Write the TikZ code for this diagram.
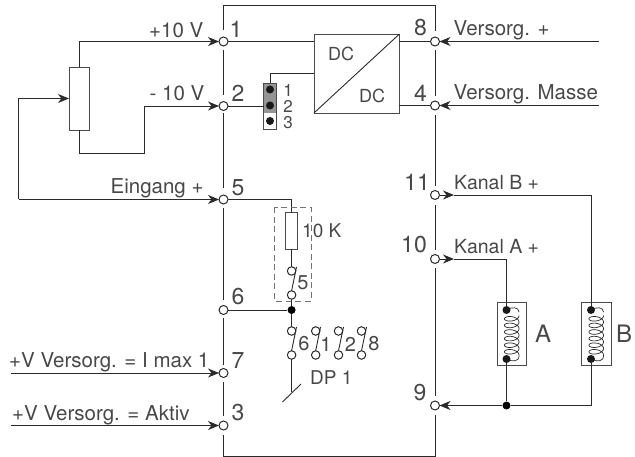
\documentclass[tikz,border=0pt]{standalone}
\usepackage{fontspec}
\setmainfont{TeX Gyre Heros}
\usetikzlibrary{arrows.meta}
\definecolor{ink}{HTML}{2A2A2A}
\definecolor{txt}{HTML}{484848}
\tikzset{
  wire/.style={draw=ink,line width=0.9pt},
  box/.style={draw=ink!85,line width=0.9pt,fill=white,rectangle,inner sep=0pt,outer sep=0pt},
  term/.style={circle,draw=ink,line width=1pt,fill=white,minimum size=9pt,inner sep=0pt,outer sep=0pt},
  swt/.style={term,minimum size=8.5pt},
  jdot/.style={circle,fill=black!90,minimum size=8pt,inner sep=0pt},
  arr/.style={wire,-{Stealth[length=11pt,width=9pt,inset=3.5pt]}},
  num/.style={text=txt,font=\fontsize{23}{23}\selectfont,inner sep=0pt},
  lab/.style={text=txt,font=\fontsize{20.5}{21}\selectfont,inner sep=0pt,anchor=base west},
  small/.style={text=txt,font=\fontsize{18}{18}\selectfont,inner sep=0pt},
  swdig/.style={text=txt,font=\fontsize{20}{20}\selectfont,inner sep=0pt},
  jdig/.style={text=txt,font=\fontsize{17}{17}\selectfont,inner sep=0pt},
  kan/.style={lab,font=\fontsize{19.5}{20}\selectfont},
  coillet/.style={text=txt,font=\fontsize{24}{24}\selectfont,inner sep=0pt},
}
\newcommand{\coilat}[2]{% x of wire, top y
  \draw[ink,line width=0.7pt] (#1,#2) .. controls (#1+5,#2-3.5) and (#1+12.5,#2-3) .. (#1+12.5,#2+2)
    plot[domain=0:2160,samples=220,smooth] ({#1+5.2+7.3*cos(\x)},{#2+5.5+\x/360*6.6+3.8*sin(\x)})
    .. controls (#1+13,#2+52) and (#1+6,#2+52) .. (#1,#2+49);
}
\begin{document}
\begin{tikzpicture}[x=1pt,y=-1pt]
\useasboundingbox (0,0) rectangle (635,457);
% terminals
\node[term] (t1) at (223.5,41.5) {};
\node[term] (t2) at (223.5,106) {};
\node[term] (t5) at (223.5,199.5) {};
\node[term] (t6) at (223.5,310) {};
\node[term] (t7) at (223.5,373) {};
\node[term] (t3) at (223.5,425.5) {};
\node[term] (t8) at (435,41.5) {};
\node[term] (t4) at (435,105.5) {};
\node[term] (t11) at (435,195) {};
\node[term] (t10) at (435,259) {};
\node[term] (t9) at (435,405.5) {};
% housing
\draw[wire,line width=1pt] (223.5,30) -- (223.5,6) -- (435,6) -- (435,31);
\draw[wire,line width=1pt] (223.5,50) -- (223.5,95);
\draw[wire,line width=1pt] (223.5,113) -- (223.5,188);
\draw[wire,line width=1pt] (223.5,208) -- (223.5,300);
\draw[wire,line width=1pt] (223.5,318) -- (223.5,365);
\draw[wire,line width=1pt] (223.5,382) -- (223.5,416);
\draw[wire,line width=1pt] (223.5,435) -- (223.5,456) -- (435,456) -- (435,415);
\draw[wire,line width=1pt] (435,50) -- (435,96);
\draw[wire,line width=1pt] (435,115) -- (435,186);
\draw[wire,line width=1pt] (435,205) -- (435,250);
\draw[wire,line width=1pt] (435,268) -- (435,396);
% numbers
\node[num] at (236,29) {1};
\node[num] at (238,93) {2};
\node[num] at (238,188) {5};
\node[num] at (238,297) {6};
\node[num] at (238,361) {7};
\node[num] at (238,413) {3};
\node[num] at (420.5,28) {8};
\node[num] at (420.5,93) {4};
\node[num] at (417,182) {11};
\node[num] at (414,245) {10};
\node[num] at (420,393) {9};
% potentiometer
\node[box,minimum width=20.5pt,minimum height=63pt] (pot) at (79.2,98.5) {};
\coordinate (w1) at (79.2,41.5);
\coordinate (w2) at (79.2,153);
\coordinate (w3) at (144,153);
\coordinate (w4) at (144,106);
\coordinate (w5) at (18.5,98.5);
\coordinate (w6) at (18.5,199.5);
\draw[wire] (pot.north) -- (w1);
\draw[arr] (w1) -- (t1);
\draw[wire] (pot.south) -- (w2) -- (w3) -- (w4);
\draw[arr] (w4) -- (t2);
\draw[arr] (w6) -- (w5) -- (pot.west);
\draw[arr] (w6) -- (t5);
\node[lab] at (149,37.5) {+10 V};
\node[lab] at (149.5,100.5) {- 10 V};
\node[lab] at (110.5,194) {Eingang +};
% DC/DC
\node[box,minimum width=85.5pt,minimum height=79pt] (dc) at (356.7,73.5) {};
\draw[wire] (dc.south west) -- (dc.north east);
\node[small] at (341,54) {DC};
\node[small] at (372,96) {DC};
\draw[wire] (t1) -- (dc.west |- t1);
\draw[wire] (dc.east |- t8) -- (t8);
\draw[wire] (dc.east |- t4) -- (t4);
% jumper
\node[box,minimum width=12.5pt,minimum height=46pt] (jmp) at (270,106) {};
\fill[black!42] (jmp.north west) rectangle (276.2,113);
\draw[ink!85,line width=0.9pt] (jmp.north west) rectangle (jmp.south east);
\node[jdot] at (270,89.5) {};
\node[jdot] at (270,105.5) {};
\node[jdot] at (270,121) {};
\coordinate (j1) at (270,73);
\draw[wire] (jmp.north) -- (j1) -- (dc.west |- j1);
\draw[wire] (t2) -- (jmp.west |- t2);
\node[jdig] at (288,90) {1};
\node[jdig] at (288,106) {2};
\node[jdig] at (288,123) {3};
% supply
\coordinate (v8) at (599,41.5);
\coordinate (v4) at (599,105.5);
\draw[arr] (v8) -- (t8);
\draw[arr] (v4) -- (t4);
\node[lab] at (453.5,36) {Versorg. +};
\node[lab] at (453.5,100) {Versorg. Masse};
% 10K branch
\node[box,minimum width=12pt,minimum height=36.5pt] (r) at (291.6,231) {};
\coordinate (r1) at (291.6,199.5);
\draw[wire] (t5) -- (r1) -- (r.north);
\draw[draw=black!55,line width=0.9pt,dash pattern=on 6pt off 3.5pt] (274.7,207.5) rectangle (311,301);
\node[swt] (s5a) at (291.6,271) {};
\node[swt] (s5b) at (291.6,295) {};
\coordinate (s5c) at (296.5,267);
\draw[wire] (r.south) -- (s5a);
\draw[wire] (s5b.north) -- (s5c);
\node[swdig] at (303,283) {5};
\node[lab,font=\fontsize{19}{19}\selectfont] at (302,238) {10 K};
% DP switch
\node[circle,fill=black,minimum size=8pt,inner sep=0pt] (jn) at (291.6,310) {};
\draw[wire] (t6) -- (jn);
\draw[wire] (s5b) -- (jn);
\node[swt] (d1a) at (291.6,331) {};
\node[swt] (d1b) at (291.6,355) {};
\coordinate (d1c) at (296.5,327);
\draw[wire] (jn) -- (d1a);
\draw[wire] (d1b.north) -- (d1c);
\node[swt] (d2a) at (315.7,331) {};
\node[swt] (d2b) at (315.7,355) {};
\coordinate (d2c) at (320.5,327);
\draw[wire] (d2b.north) -- (d2c);
\node[swt] (d3a) at (338.5,331) {};
\node[swt] (d3b) at (338.5,355) {};
\coordinate (d3c) at (343.5,327);
\draw[wire] (d3b.north) -- (d3c);
\node[swt] (d4a) at (361.5,331) {};
\node[swt] (d4b) at (361.5,355) {};
\coordinate (d4c) at (366.5,327);
\draw[wire] (d4b.north) -- (d4c);
\node[swdig] at (304,344) {6};
\node[swdig] at (326,344) {1};
\node[swdig] at (350.5,344) {2};
\node[swdig] at (374,344) {8};
\coordinate (d5) at (291.6,392);
\coordinate (d6) at (282.5,402);
\coordinate (d7) at (301,384);
\draw[wire] (d1b) -- (d5);
\draw[wire] (d6) -- (d7);
\node[lab,font=\fontsize{19}{19}\selectfont] at (310,384.5) {DP 1};
% control inputs
\coordinate (i7) at (11,373);
\coordinate (i3) at (11,425.5);
\draw[arr] (i7) -- (t7);
\draw[arr] (i3) -- (t3);
\node[lab] at (9,367.5) {+V Versorg. = I max 1};
\node[lab] at (12,420) {+V Versorg. = Aktiv};
% coils
\node[box,minimum width=29.5pt,minimum height=63.5pt] (ca) at (511.8,334) {};
\node[box,minimum width=29.5pt,minimum height=63.5pt] (cb) at (596.5,334) {};
\coilat{506.5}{310}
\coilat{591}{310}
\node[jdot] (a1) at (506.5,310) {};
\node[jdot] (a2) at (506.5,359) {};
\node[jdot] (b1) at (591,310) {};
\node[jdot] (b2) at (591,359) {};
\node[coillet] at (543,334) {A};
\node[coillet] at (624,334) {B};
% channels
\coordinate (k11) at (454,195);
\coordinate (k10) at (454,259);
\coordinate (k11b) at (591,195);
\coordinate (k10b) at (506.5,259);
\draw[arr] (t11) -- (k11);
\draw[arr] (t10) -- (k10);
\draw[wire] (k11) -- (k11b) -- (b1);
\draw[wire] (k10) -- (k10b) -- (a1);
\node[kan] at (454,190) {Kanal B +};
\node[kan] at (454,254) {Kanal A +};
\node[circle,fill=black,minimum size=8pt,inner sep=0pt] (j9) at (506.5,405.5) {};
\coordinate (b9) at (591,405.5);
\draw[wire] (a2) -- (j9);
\draw[wire] (b2) -- (b9) -- (j9);
\draw[arr] (j9) -- (t9);
\end{tikzpicture}
\end{document}
